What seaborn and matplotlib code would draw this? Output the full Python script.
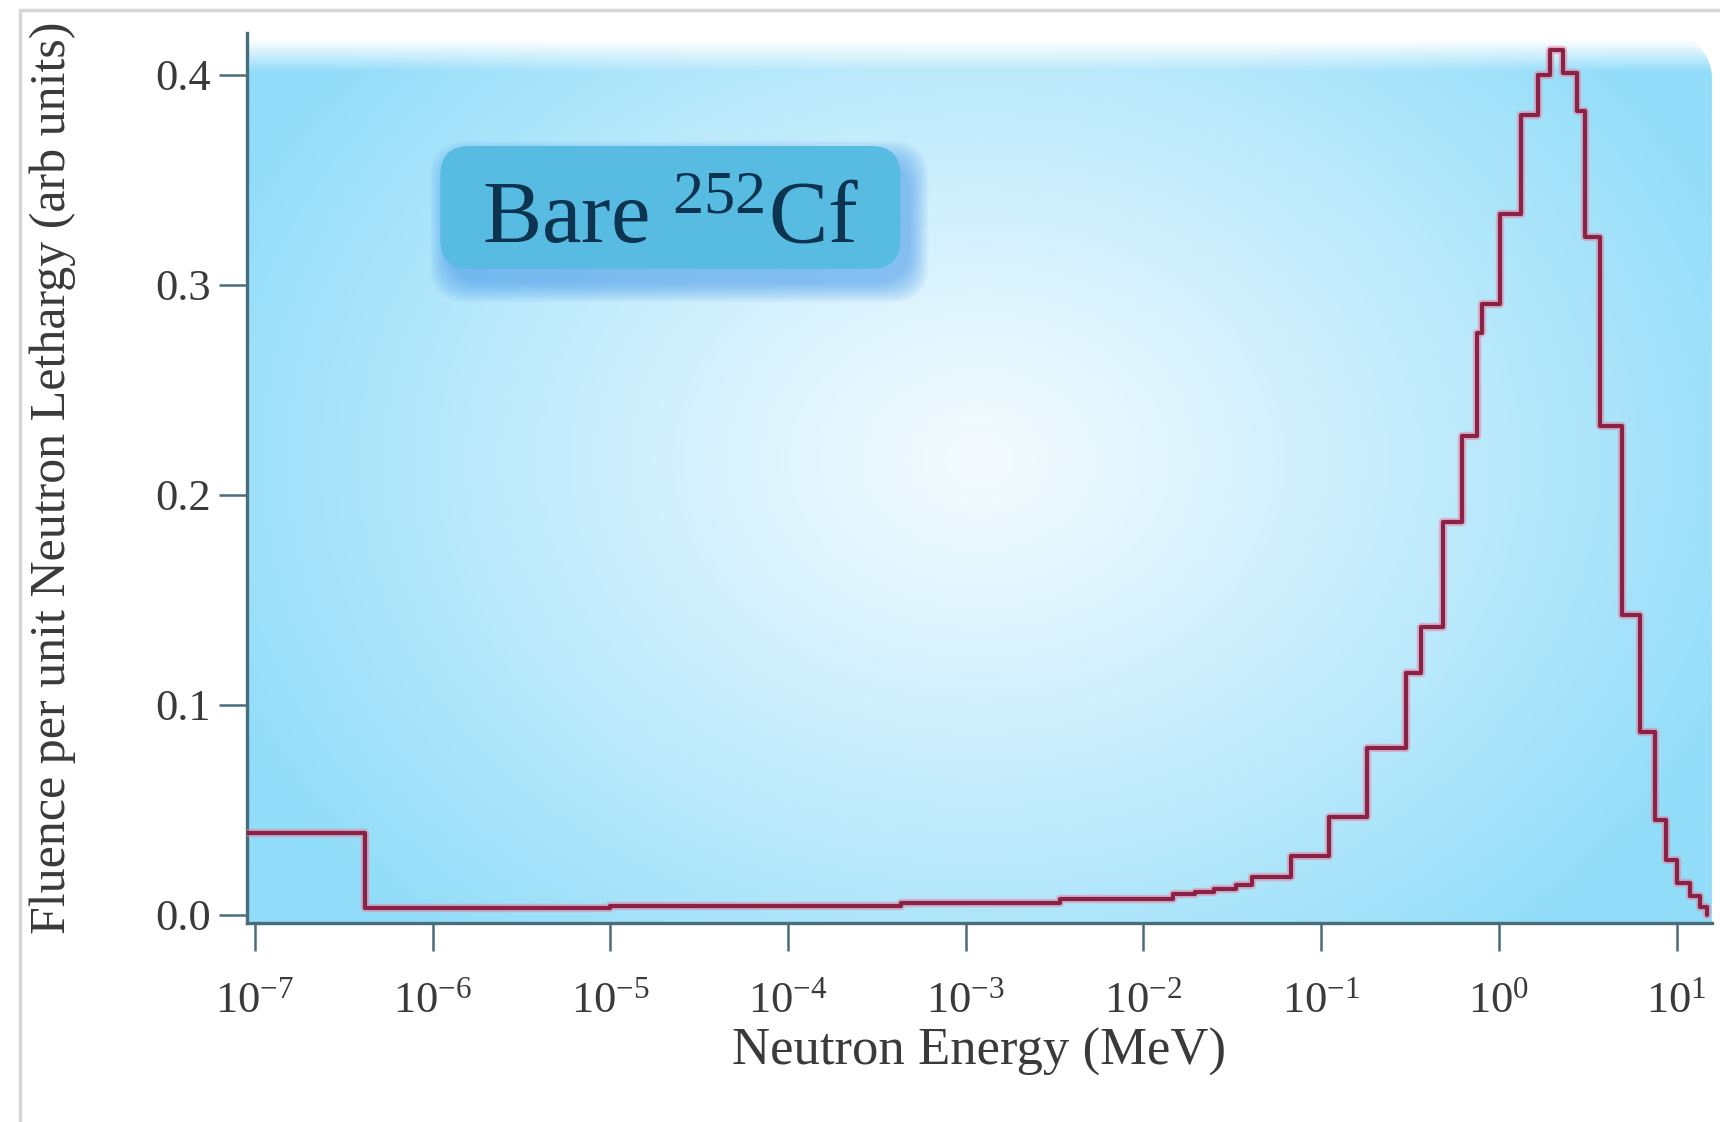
import numpy as np
import pandas as pd
import matplotlib
matplotlib.use("Agg")
import matplotlib.pyplot as plt
import seaborn as sns
from matplotlib.path import Path
from matplotlib.patches import PathPatch, FancyBboxPatch, Rectangle
from matplotlib.ticker import NullLocator, FixedLocator, LogFormatterSciNotation

# ---------------- data ----------------
energy_edges_mev = [1e-8, 4.14e-7, 1e-5, 4.3e-4, 3.4e-3, 0.0147, 0.0195, 0.025,
                    0.033, 0.041, 0.068, 0.111, 0.18, 0.30, 0.365, 0.485, 0.62,
                    0.75, 0.80, 1.01, 1.33, 1.66, 1.94, 2.3, 2.75, 3.05, 3.7,
                    4.93, 6.2, 7.55, 8.7, 10.0, 11.9, 13.5, 14.8]
fluence_per_lethargy = [0.039, 0.0032, 0.0042, 0.0056, 0.0075, 0.0098, 0.011,
                        0.0125, 0.0145, 0.0183, 0.028, 0.0468, 0.0795, 0.115,
                        0.137, 0.187, 0.228, 0.277, 0.291, 0.334, 0.381, 0.400,
                        0.412, 0.401, 0.383, 0.323, 0.233, 0.143, 0.087, 0.045,
                        0.026, 0.015, 0.009, 0.004]
x_tick_values = [1e-7, 1e-6, 1e-5, 1e-4, 1e-3, 1e-2, 1e-1, 1e0, 1e1]
y_tick_values = [0.0, 0.1, 0.2, 0.3, 0.4]
y_tick_labels = ["0.0", "0.1", "0.2", "0.3", "0.4"]
x_label = "Neutron Energy (MeV)"
y_label = "Fluence per unit Neutron Lethargy (arb units)"
source_label = "Bare $^{252}$Cf"

# step outline: each bin value held to the next edge, closing down to zero
step_x = energy_edges_mev + [energy_edges_mev[-1]]
step_y = fluence_per_lethargy + [fluence_per_lethargy[-1], 0.0]
df = pd.DataFrame({"energy": step_x, "fluence": step_y})

# ---------------- style ----------------
sns.set_theme(style="white")
plt.rcParams["font.family"] = ["Liberation Serif", "DejaVu Serif"]
plt.rcParams["mathtext.fontset"] = "custom"
plt.rcParams["mathtext.rm"] = "Liberation Serif"
plt.rcParams["mathtext.it"] = "Liberation Serif:italic"
plt.rcParams["mathtext.bf"] = "Liberation Serif:bold"

fig = plt.figure(figsize=(17.2, 11.22), dpi=100)
fig.patch.set_facecolor("white")

pos = [0.1436, 0.1774, 0.8517, 0.7932]

# ---------------- gradient background ----------------
bg = fig.add_axes(pos, zorder=0)
bg.set_xlim(0, 1)
bg.set_ylim(0, 1)
bg.axis("off")
ny, nx = 450, 740
X, Y = np.meshgrid(np.linspace(0, 1, nx), np.linspace(0, 1, ny))
d = np.sqrt(((X - 0.50) / 0.56) ** 2 + ((Y - 0.52) / 0.72) ** 2)
t = np.clip(d, 0, 1) ** 1.1
center_c = np.array([244, 251, 255]) / 255.0
edge_c = np.array([146, 221, 249]) / 255.0
img = center_c + (edge_c - center_c) * t[..., None]
top = np.clip((Y - 0.958) / 0.035, 0, 1)[..., None]
img = img * (1 - top) + top
im = bg.imshow(img, extent=[0, 1, 0, 1], origin="lower", aspect="auto",
               interpolation="bilinear", zorder=0)
rx, ry = 45 / 1465, 45 / 890
th = np.linspace(0, np.pi / 2, 20)
verts = [(0, 0), (1, 0), (1, 1 - ry)]
verts += [(1 - rx + rx * np.cos(a), 1 - ry + ry * np.sin(a)) for a in th]
verts += [(0, 1), (0, 0)]
codes = [Path.MOVETO] + [Path.LINETO] * (len(verts) - 2) + [Path.CLOSEPOLY]
clip = PathPatch(Path(verts, codes), transform=bg.transData, facecolor="none", edgecolor="none")
bg.add_patch(clip)
im.set_clip_path(clip)

# ---------------- main axes ----------------
ax = fig.add_axes(pos, zorder=1)
ax.patch.set_alpha(0)
ax.set_xscale("log")

sns.lineplot(data=df, x="energy", y="fluence", drawstyle="steps-post",
             estimator=None, sort=False, color="#ee7a96", linewidth=6.0,
             alpha=0.5, ax=ax, zorder=3)
sns.lineplot(data=df, x="energy", y="fluence", drawstyle="steps-post",
             estimator=None, sort=False, color="#8a2146", linewidth=3.0,
             ax=ax, zorder=4)

ax.set_xlim(10 ** -7.045, 10 ** 1.199)
ax.set_ylim(-0.0038, 0.42)

ax.xaxis.set_major_locator(FixedLocator(x_tick_values))
ax.xaxis.set_major_formatter(LogFormatterSciNotation())
ax.xaxis.set_minor_locator(NullLocator())
ax.set_yticks(y_tick_values)
ax.set_yticklabels(y_tick_labels)

for s in ["top", "right"]:
    ax.spines[s].set_visible(False)
for s in ["left", "bottom"]:
    ax.spines[s].set_color("#4a6d7c")
    ax.spines[s].set_linewidth(2.4)

ax.tick_params(axis="both", which="major", direction="out", length=20, width=1.8,
               color="#4a6d7c", labelsize=32, labelcolor="#3a3a3a",
               bottom=True, left=True, top=False, right=False)
ax.tick_params(axis="x", pad=22)
ax.tick_params(axis="y", pad=6)

ax.set_xlabel(x_label, fontsize=38, color="#3a3a3a")
ax.set_ylabel(y_label, fontsize=36, color="#3a3a3a")
ax.xaxis.set_label_coords(0.500, -0.118)
ax.yaxis.set_label_coords(-0.117, 0.50)

# ---------------- label box ----------------
asp = 1465 / 890
bx0, by0, bw, bh = 0.132, 0.735, 0.314, 0.138
for grow in np.linspace(0.026, 0.0, 12):
    sh = FancyBboxPatch((bx0 + 0.006 - grow / 2, by0 - 0.016 - grow * asp / 2),
                        bw + grow, bh + grow * asp,
                        boxstyle="round,pad=0,rounding_size=0.025", mutation_aspect=asp,
                        transform=ax.transAxes, facecolor="#3f95ea", edgecolor="none",
                        alpha=0.06, zorder=2)
    ax.add_patch(sh)
box = FancyBboxPatch((bx0, by0), bw, bh, boxstyle="round,pad=0,rounding_size=0.02",
                     mutation_aspect=asp, transform=ax.transAxes, facecolor="#58bbe2",
                     edgecolor="none", zorder=2.5)
ax.add_patch(box)
ax.text(0.289, 0.790, source_label, transform=ax.transAxes, fontsize=64,
        color="#0c3450", ha="center", va="center", zorder=5)

# ---------------- outer frame ----------------
fig.add_artist(Rectangle((0.0115, -0.01), 1.0, 1.001, transform=fig.transFigure,
                         facecolor="none", edgecolor="#d6d6d6", linewidth=2.5))

fig.savefig("out.png", dpi=100, facecolor="white")
